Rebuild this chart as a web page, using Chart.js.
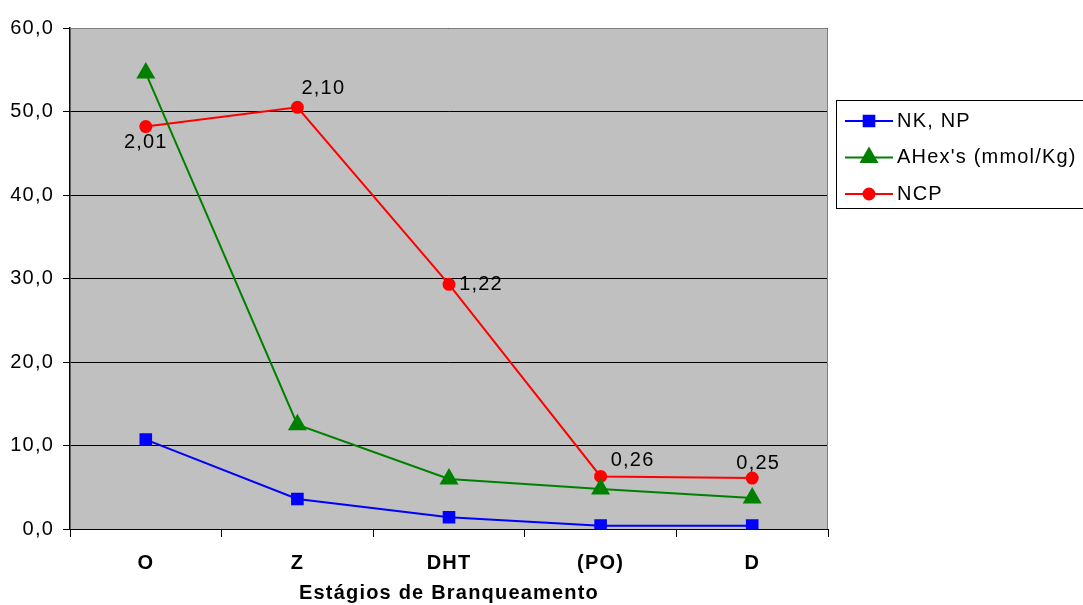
<!DOCTYPE html>
<html>
<head>
<meta charset="utf-8">
<script src="https://cdn.jsdelivr.net/npm/chart.js@4"></script>
<style>
  html, body { margin: 0; padding: 0; background: #fff; }
  #wrap { width: 1083px; height: 605px; }
</style>
</head>
<body>
<div id="wrap"><canvas id="graf" width="1083" height="605"></canvas></div>
<script>
const estagios = ['O', 'Z', 'DHT', '(PO)', 'D'];
const nkNp = [10.7, 3.6, 1.4, 0.4, 0.4];
const ahex = [54.6, 12.5, 6.0, 4.8, 3.7];
const ncp = [48.2, 50.5, 29.3, 6.3, 6.1];          // posição no gráfico (escala do eixo)
const ncpRotulos = ['2,01', '2,10', '1,22', '0,26', '0,25'];
const yTicks = [0, 10, 20, 30, 40, 50, 60];

const FONTE = '"Liberation Sans", Arial, sans-serif';
Chart.defaults.font.family = FONTE;
Chart.defaults.color = '#000';

// texto um pouco mais largo, como no original
const espaco = {
  id: 'espaco',
  beforeUpdate(chart) { chart.ctx.letterSpacing = '1.2px'; },
  beforeDraw(chart) { chart.ctx.letterSpacing = '1.2px'; }
};

// fundo cinza da área do gráfico + borda
const fundo = {
  id: 'fundo',
  beforeDraw(chart) {
    const { ctx, chartArea: a } = chart;
    ctx.save();
    ctx.fillStyle = '#C0C0C0';
    ctx.fillRect(a.left, a.top, a.right - a.left, a.bottom - a.top);
    ctx.restore();
  },
  afterDatasetsDraw(chart) {
    const { ctx, chartArea: a } = chart;
    ctx.save();
    ctx.strokeStyle = '#808080';
    ctx.lineWidth = 1;
    ctx.beginPath();
    ctx.moveTo(a.left, a.top + 0.5);
    ctx.lineTo(a.right - 0.5, a.top + 0.5);
    ctx.lineTo(a.right - 0.5, a.bottom);
    ctx.stroke();
    ctx.restore();
  }
};

// rótulos da série NCP
const desloc = [[0, 16], [26, -19], [32, 0], [32, -16], [6, -15]];
const rotulos = {
  id: 'rotulos',
  afterDatasetsDraw(chart) {
    const { ctx } = chart;
    const meta = chart.getDatasetMeta(2);
    ctx.save();
    ctx.font = '20px ' + FONTE;
    ctx.fillStyle = '#000';
    ctx.textAlign = 'center';
    ctx.textBaseline = 'middle';
    meta.data.forEach((p, i) => {
      ctx.fillText(ncpRotulos[i], p.x + desloc[i][0], p.y + desloc[i][1]);
    });
    ctx.restore();
  }
};

// legenda à direita com caixa
const legenda = {
  id: 'legenda',
  afterDraw(chart) {
    const { ctx } = chart;
    const x0 = 836, y0 = 100, w = 260, h = 108;
    ctx.save();
    ctx.fillStyle = '#fff';
    ctx.fillRect(x0, y0, w, h);
    ctx.strokeStyle = '#000';
    ctx.lineWidth = 1;
    ctx.strokeRect(x0 + 0.5, y0 + 0.5, w, h);
    ctx.font = '20px ' + FONTE;
    ctx.textBaseline = 'middle';
    chart.data.datasets.forEach((ds, i) => {
      const y = 121 + i * 36.5;
      ctx.strokeStyle = ds.borderColor;
      ctx.lineWidth = 2;
      ctx.beginPath();
      ctx.moveTo(845, y);
      ctx.lineTo(893, y);
      ctx.stroke();
      ctx.fillStyle = ds.borderColor;
      Chart.helpers.drawPoint(ctx, { pointStyle: ds.pointStyle, radius: ds.pointRadius, borderWidth: 1 }, 869, y);
      ctx.fill();
      ctx.fillStyle = '#000';
      ctx.fillText(ds.label, 897, y);
    });
    ctx.restore();
  }
};

new Chart(document.getElementById('graf'), {
  type: 'line',
  data: {
    labels: estagios,
    datasets: [
      {
        label: 'NK, NP',
        data: nkNp,
        borderColor: '#0000FF',
        backgroundColor: '#0000FF',
        borderWidth: 2,
        pointStyle: 'rect',
        pointRadius: 7.5,
        pointHoverRadius: 7.5
      },
      {
        label: "AHex's (mmol/Kg)",
        data: ahex,
        borderColor: '#008000',
        backgroundColor: '#008000',
        borderWidth: 2,
        pointStyle: 'triangle',
        pointRadius: 9,
        pointHoverRadius: 9
      },
      {
        label: 'NCP',
        data: ncp,
        borderColor: '#FF0000',
        backgroundColor: '#FF0000',
        borderWidth: 2,
        pointStyle: 'circle',
        pointRadius: 5.5,
        pointHoverRadius: 5.5
      }
    ]
  },
  options: {
    responsive: false,
    animation: false,
    events: [],
    layout: { padding: { top: 28, right: 255, left: 0, bottom: 0 } },
    plugins: {
      legend: { display: false },
      tooltip: { enabled: false }
    },
    scales: {
      x: {
        offset: true,
        grid: { offset: true, drawOnChartArea: false, drawTicks: true, tickLength: 8, color: '#000' },
        border: { display: true, color: '#000', width: 1 },
        ticks: { font: { size: 20, weight: 'bold' }, padding: 14, color: '#000' },
        title: {
          display: true,
          text: 'Estágios de Branqueamento',
          font: { size: 20, weight: 'bold' },
          color: '#000',
          padding: { top: 3, bottom: 0 }
        },
        afterFit(s) { s.height = 76; }
      },
      y: {
        min: 0,
        max: 60,
        afterBuildTicks(s) { s.ticks = yTicks.map(v => ({ value: v })); },
        grid: { color: '#000', lineWidth: 1, tickLength: 7 },
        border: { display: true, color: '#000', width: 1.5 },
        ticks: {
          font: { size: 20 },
          padding: 9,
          color: '#000',
          callback: v => v.toFixed(1).replace('.', ',')
        },
        afterFit(s) { s.width = 70; }
      }
    }
  },
  plugins: [espaco, fundo, rotulos, legenda]
});
</script>
</body>
</html>
